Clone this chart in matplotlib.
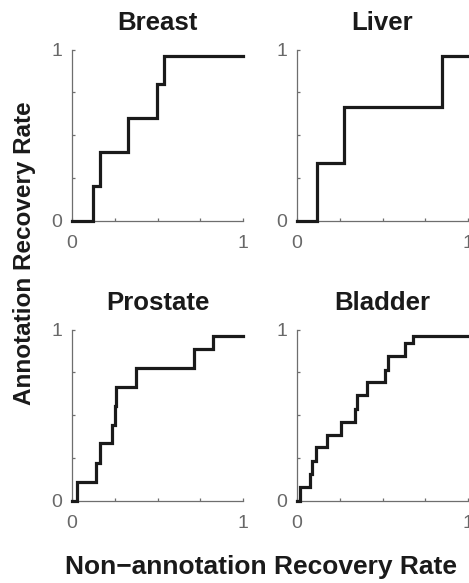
import matplotlib.pyplot as plt

plt.rcParams['font.family'] = ['Liberation Sans', 'DejaVu Sans']

titles = ["Breast", "Liver", "Prostate", "Bladder"]

breast_x = [0, 0.125, 0.164, 0.33, 0.496, 0.54, 1.0]
breast_y = [0, 0.2, 0.4, 0.6, 0.8, 0.963, 0.963]

liver_x = [0, 0.119, 0.272, 0.846, 1.0]
liver_y = [0, 0.335, 0.667, 0.963, 0.963]

prostate_x = [0, 0.027, 0.14, 0.166, 0.232, 0.25, 0.26, 0.375, 0.711, 0.824, 1.0]
prostate_y = [0, 0.107, 0.218, 0.335, 0.44, 0.554, 0.665, 0.776, 0.889, 0.963, 0.963]

bladder_x = [0, 0.016, 0.076, 0.088, 0.11, 0.175, 0.26, 0.342, 0.352, 0.412,
             0.512, 0.531, 0.634, 0.681, 1.0]
bladder_y = [0, 0.078, 0.156, 0.23, 0.313, 0.385, 0.463, 0.537, 0.617, 0.695,
             0.767, 0.848, 0.922, 0.963, 0.963]

curves = [(breast_x, breast_y), (liver_x, liver_y),
          (prostate_x, prostate_y), (bladder_x, bladder_y)]

W, H = 469, 583
fig = plt.figure(figsize=(W / 100, H / 100), dpi=100)

lefts = [72, 297]
bottoms = [220.7, 500.7]
size = 171

gray = '#6e6e6e'
for i, (title, (xs, ys)) in enumerate(zip(titles, curves)):
    col, row = i % 2, i // 2
    ax = fig.add_axes([lefts[col] / W, (H - bottoms[row]) / H, size / W, size / H])
    ax.plot(xs, ys, drawstyle='steps-post', color='#1a1a1a', lw=2.3,
            solid_joinstyle='miter', clip_on=False, zorder=3)
    ax.set_xlim(0, 1)
    ax.set_ylim(0, 1)
    for s in ['top', 'right']:
        ax.spines[s].set_visible(False)
    for s in ['left', 'bottom']:
        ax.spines[s].set_color(gray)
        ax.spines[s].set_linewidth(0.9)
    ax.set_xticks([0, 0.25, 0.5, 0.75, 1])
    ax.set_xticklabels(['0', '', '', '', '1'])
    ax.set_yticks([0, 0.25, 0.5, 0.75, 1])
    ax.set_yticklabels(['0', '', '', '', '1'])
    ax.tick_params(axis='both', direction='in', length=2.5, width=0.9, color=gray,
                   labelcolor='#686868', labelsize=14)
    ax.tick_params(axis='x', pad=10)
    ax.tick_params(axis='y', pad=7)
    ax.set_title(title, fontsize=18.5, fontweight='bold', pad=14, color='#1a1a1a')

fig.text(261 / W, 1 - 567 / H, "Non\u2212annotation Recovery Rate", fontsize=19,
         fontweight='bold', ha='center', va='center', color='#1a1a1a')
fig.text(25 / W, 1 - 253 / H, "Annotation Recovery Rate", fontsize=17.5,
         fontweight='bold', ha='center', va='center', rotation=90, color='#1a1a1a')

fig.savefig("out.png", dpi=100)
